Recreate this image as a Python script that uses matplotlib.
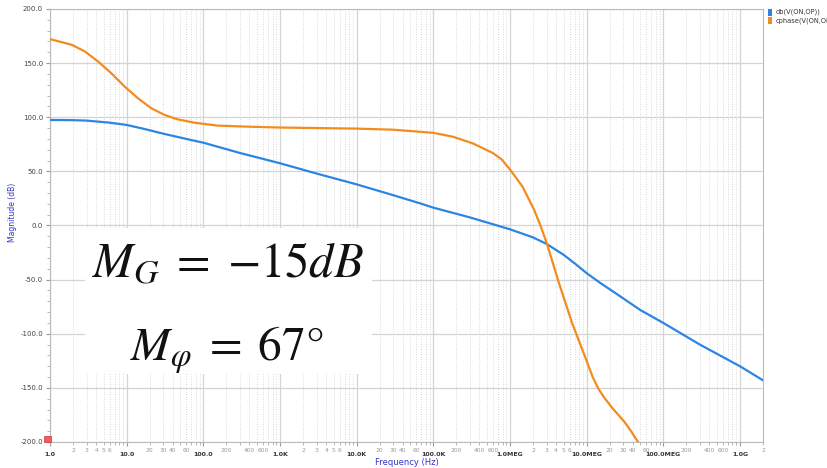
import numpy as np
import matplotlib.pyplot as plt
from matplotlib.patches import Rectangle
from matplotlib.ticker import FixedLocator, NullFormatter

# === Data ===
mag_freq = [1, 2, 3, 6, 10, 17, 31, 69, 100, 300, 1e3, 3e3, 1e4, 3e4, 6.7e4,
            1e5, 3e5, 1e6, 2e6, 3e6, 5e6, 7e6, 1e7, 1.5e7, 2.5e7, 5e7,
            1e8, 3e8, 1e9, 2e9]
mag_db = [97.5, 97.3, 96.9, 95, 92.9, 89.2, 84.6, 79, 76.5, 67, 57.5, 48, 38,
          28, 20.5, 16.5, 7.5, -3.5, -11, -17, -27, -35, -44, -53, -63.5, -78,
          -90, -110, -130, -143]

ph_freq = [1, 1.91, 2.85, 4.24, 6.3, 9.4, 14, 21, 31, 46, 76, 153, 340, 1e3,
           1e4, 3e4, 1e5, 1.81e5, 3.29e5, 5.97e5, 7.8e5, 1e6, 1.46e6, 2.07e6,
           2.5e6, 3.07e6, 4.35e6, 6.46e6, 1e7, 1.2e7, 1.43e7, 1.7e7, 2.13e7,
           2.6e7, 3.16e7, 3.8e7, 4.3e7, 4.7e7]
ph_deg = [172.2, 167, 160.8, 151.5, 140.7, 128.4, 117.6, 108.3, 102.2, 98.1,
          95, 92.3, 91.4, 90.5, 89.5, 88.5, 85.6, 82, 75.8, 67, 61, 51.8,
          35.9, 14.4, 0, -17.8, -53, -90, -125, -140, -151, -159, -168, -175,
          -182, -190, -196, -200]

decades = [1, 10, 100, 1e3, 1e4, 1e5, 1e6, 1e7, 1e8, 1e9]
decade_labels = ["1.0", "10.0", "100.0", "1.0K", "10.0K", "100.0K",
                 "1.0MEG", "10.0MEG", "100.0MEG", "1.0G"]
minor_label_digits = [[2, 3, 4, 5, 6], [2, 3, 4, 6], [2, 4, 6]] * 3 + [[2]]

y_ticks = [200, 150, 100, 50, 0, -50, -100, -150, -200]

series_names = ["db(V(ON,OP))", "cphase(V(ON,OP))"]
BLUE = "#2b86e3"
ORANGE = "#f28c1e"

# === Figure ===
fig = plt.figure(figsize=(8.28, 4.68), dpi=100)
ax = fig.add_axes([50 / 828, 1 - 442 / 468, 713 / 828, 433 / 468])

ax.plot(mag_freq, mag_db, color=BLUE, lw=1.6, zorder=3, solid_joinstyle="round")
ax.plot(ph_freq, ph_deg, color=ORANGE, lw=1.6, zorder=3, solid_joinstyle="round")

ax.set_xscale("log")
ax.set_xlim(1, 2e9)
ax.set_ylim(-200, 200)

# grid
minor = [d * m for d in decades for m in range(2, 10) if d * m <= 2e9]
ax.xaxis.set_major_locator(FixedLocator(decades))
ax.xaxis.set_minor_locator(FixedLocator(minor))
ax.xaxis.set_minor_formatter(NullFormatter())
ax.set_xticklabels(decade_labels, fontsize=4.5, fontweight="bold", color="#333333")
ax.set_yticks(y_ticks)
ax.set_yticklabels([f"{v:.1f}" for v in y_ticks], fontsize=5, color="#444444")
ax.yaxis.set_minor_locator(FixedLocator(np.arange(-200, 201, 10)))
ax.tick_params(axis="x", which="major", length=3, color="#999999", pad=4)
ax.tick_params(axis="y", which="major", length=3, color="#999999", pad=2)
ax.tick_params(axis="both", which="minor", length=2, color="#aaaaaa")

ax.grid(True, which="major", color="#d4d4d4", lw=0.9)
ax.grid(True, which="minor", axis="x", color="#cccccc", lw=0.6, ls=(0, (1, 2)))
for s in ax.spines.values():
    s.set_color("#bbbbbb")
    s.set_linewidth(0.8)

# minor tick labels
for d, digits in zip(decades, minor_label_digits):
    for m in digits:
        if d in (1, 1e3, 1e6, 1e9):
            txt = str(m)
        elif d in (10, 1e4, 1e7):
            txt = str(m * 10)
        else:
            txt = str(m * 100)
        ax.text(d * m, -0.013, txt, transform=ax.get_xaxis_transform(),
                ha="center", va="top", fontsize=4.3, color="#999999")

ax.set_xlabel("Frequency (Hz)", fontsize=6, color="#3333cc", labelpad=1)
ax.set_ylabel("Magnitude (dB)", fontsize=5.5, color="#3333cc", labelpad=7)
ax.yaxis.set_label_coords(-0.046, 0.53)

# small red marker at bottom of y axis
fig.patches.append(Rectangle((44 / 828, 1 - 442 / 468), 7 / 828, 6 / 468,
                             transform=fig.transFigure, facecolor="#f06060",
                             edgecolor="#cc3333", lw=0.5))

# legend at top right
for i, (name, col) in enumerate(zip(series_names, [BLUE, ORANGE])):
    yb = 1 - (12 + 9 * i) / 468
    fig.patches.append(Rectangle((768 / 828, yb - 3.5 / 468), 4 / 828, 7 / 468,
                                 transform=fig.transFigure, facecolor=col, lw=0))
    fig.text(776 / 828, yb, name, fontsize=4.8, color="#333333", va="center", ha="left")

# margins annotation with white backing
fig.patches.append(Rectangle((85 / 828, 1 - 374 / 468), 287 / 828, 146 / 468,
                             transform=fig.transFigure, facecolor="white", lw=0, zorder=5))
plt.rcParams["mathtext.fontset"] = "stix"
fig.text(92 / 828, 1 - 277 / 468, r"$M_G\;=\;{-}15dB$", fontsize=35,
         ha="left", va="baseline", zorder=6, color="#111111")
fig.text(130 / 828, 1 - 361 / 468, r"$M_\varphi\;=\;67°$", fontsize=34,
         ha="left", va="baseline", zorder=6, color="#111111")

fig.savefig("out.png", dpi=100)
